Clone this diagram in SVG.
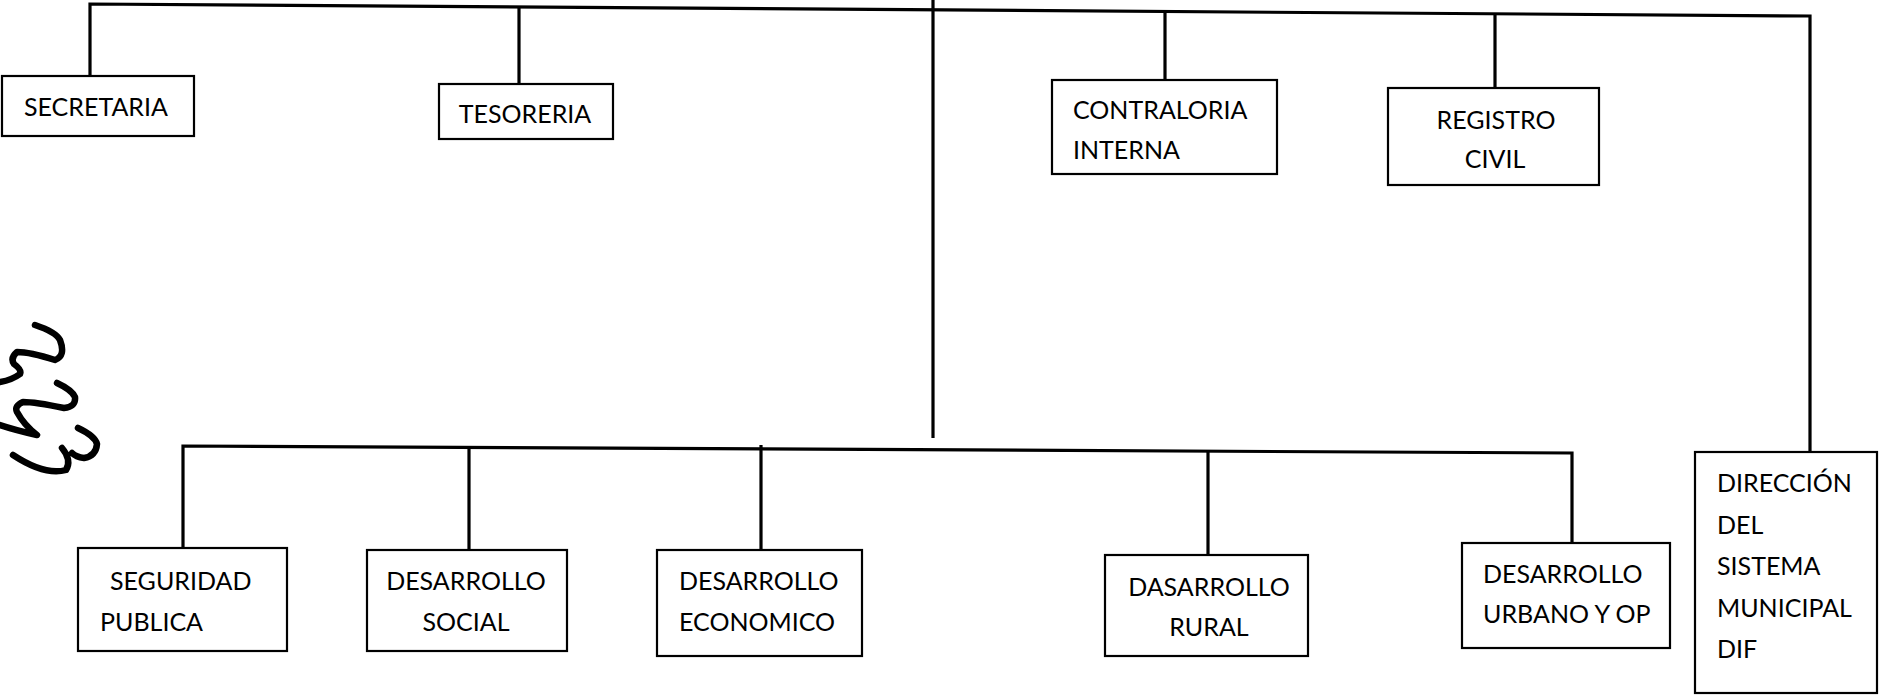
<svg xmlns="http://www.w3.org/2000/svg" width="1880" height="696" viewBox="0 0 1880 696">
<style>
.box{fill:#fff;stroke:#000;stroke-width:2.2}
.ln{stroke:#000;stroke-width:3.2;fill:none}
text{font-family:"Lato","Noto Sans",sans-serif;font-size:25px;fill:#000}
.c{text-anchor:middle}
</style>
<rect width="1880" height="696" fill="#fff"/>
<g id="connectors">
<path class="ln" d="M90,76 V4 L1810,16 V452"/>
<path class="ln" d="M519,84 V7"/>
<path class="ln" d="M933,0 V438"/>
<path class="ln" d="M1165,80 V12"/>
<path class="ln" d="M1495,88 V14"/>
<path class="ln" d="M183,548 V446 L1572,453 V543"/>
<path class="ln" d="M469,550 V448"/>
<path class="ln" d="M761,550 V445"/>
<path class="ln" d="M1208,555 V451"/>
</g>
<g id="secretaria"><rect class="box" x="2" y="76" width="192" height="60"/><text x="24" y="116">SECRETARIA</text></g>
<g id="tesoreria"><rect class="box" x="439" y="84" width="174" height="55"/><text class="c" x="525" y="123">TESORERIA</text></g>
<g id="contraloria"><rect class="box" x="1052" y="80" width="225" height="94"/><text x="1073" y="119">CONTRALORIA</text><text x="1073" y="159">INTERNA</text></g>
<g id="registro"><rect class="box" x="1388" y="88" width="211" height="97"/><text class="c" x="1496" y="129">REGISTRO</text><text class="c" x="1495" y="168">CIVIL</text></g>
<g id="dif"><rect class="box" x="1695" y="452" width="182" height="241"/><text x="1717" y="492">DIRECCIÓN</text><text x="1717" y="534">DEL</text><text x="1717" y="575">SISTEMA</text><text x="1717" y="617">MUNICIPAL</text><text x="1717" y="658">DIF</text></g>
<g id="seguridad"><rect class="box" x="78" y="548" width="209" height="103"/><text x="110" y="590">SEGURIDAD</text><text x="100" y="631">PUBLICA</text></g>
<g id="social"><rect class="box" x="367" y="550" width="200" height="101"/><text class="c" x="466" y="590">DESARROLLO</text><text class="c" x="466" y="631">SOCIAL</text></g>
<g id="economico"><rect class="box" x="657" y="550" width="205" height="106"/><text x="679" y="590">DESARROLLO</text><text x="679" y="631">ECONOMICO</text></g>
<g id="rural"><rect class="box" x="1105" y="555" width="203" height="101"/><text class="c" x="1209" y="596">DASARROLLO</text><text class="c" x="1209" y="636">RURAL</text></g>
<g id="urbano"><rect class="box" x="1462" y="543" width="208" height="105"/><text x="1483" y="583">DESARROLLO</text><text x="1483" y="623">URBANO Y OP</text></g>
<g id="scribble" fill="none" stroke="#000" stroke-width="6.5" stroke-linecap="round" stroke-linejoin="round">
<path d="M35,325 Q56,332 60,340 Q66,356 55,360 Q30,352 17,352 Q10,358 14,364 Q22,370 20,374 Q12,380 0,382"/>
<path d="M57,383 Q72,390 75,397 Q76,407 64,408 Q35,402 23,402 Q14,406 17,412 Q24,425 37,435 Q15,430 0,425"/>
<path d="M78,428 Q95,436 97,444 Q96,456 84,458 Q76,457 72,453 M62,448 Q72,460 66,470 Q45,476 13,455"/>
</g>
</svg>
